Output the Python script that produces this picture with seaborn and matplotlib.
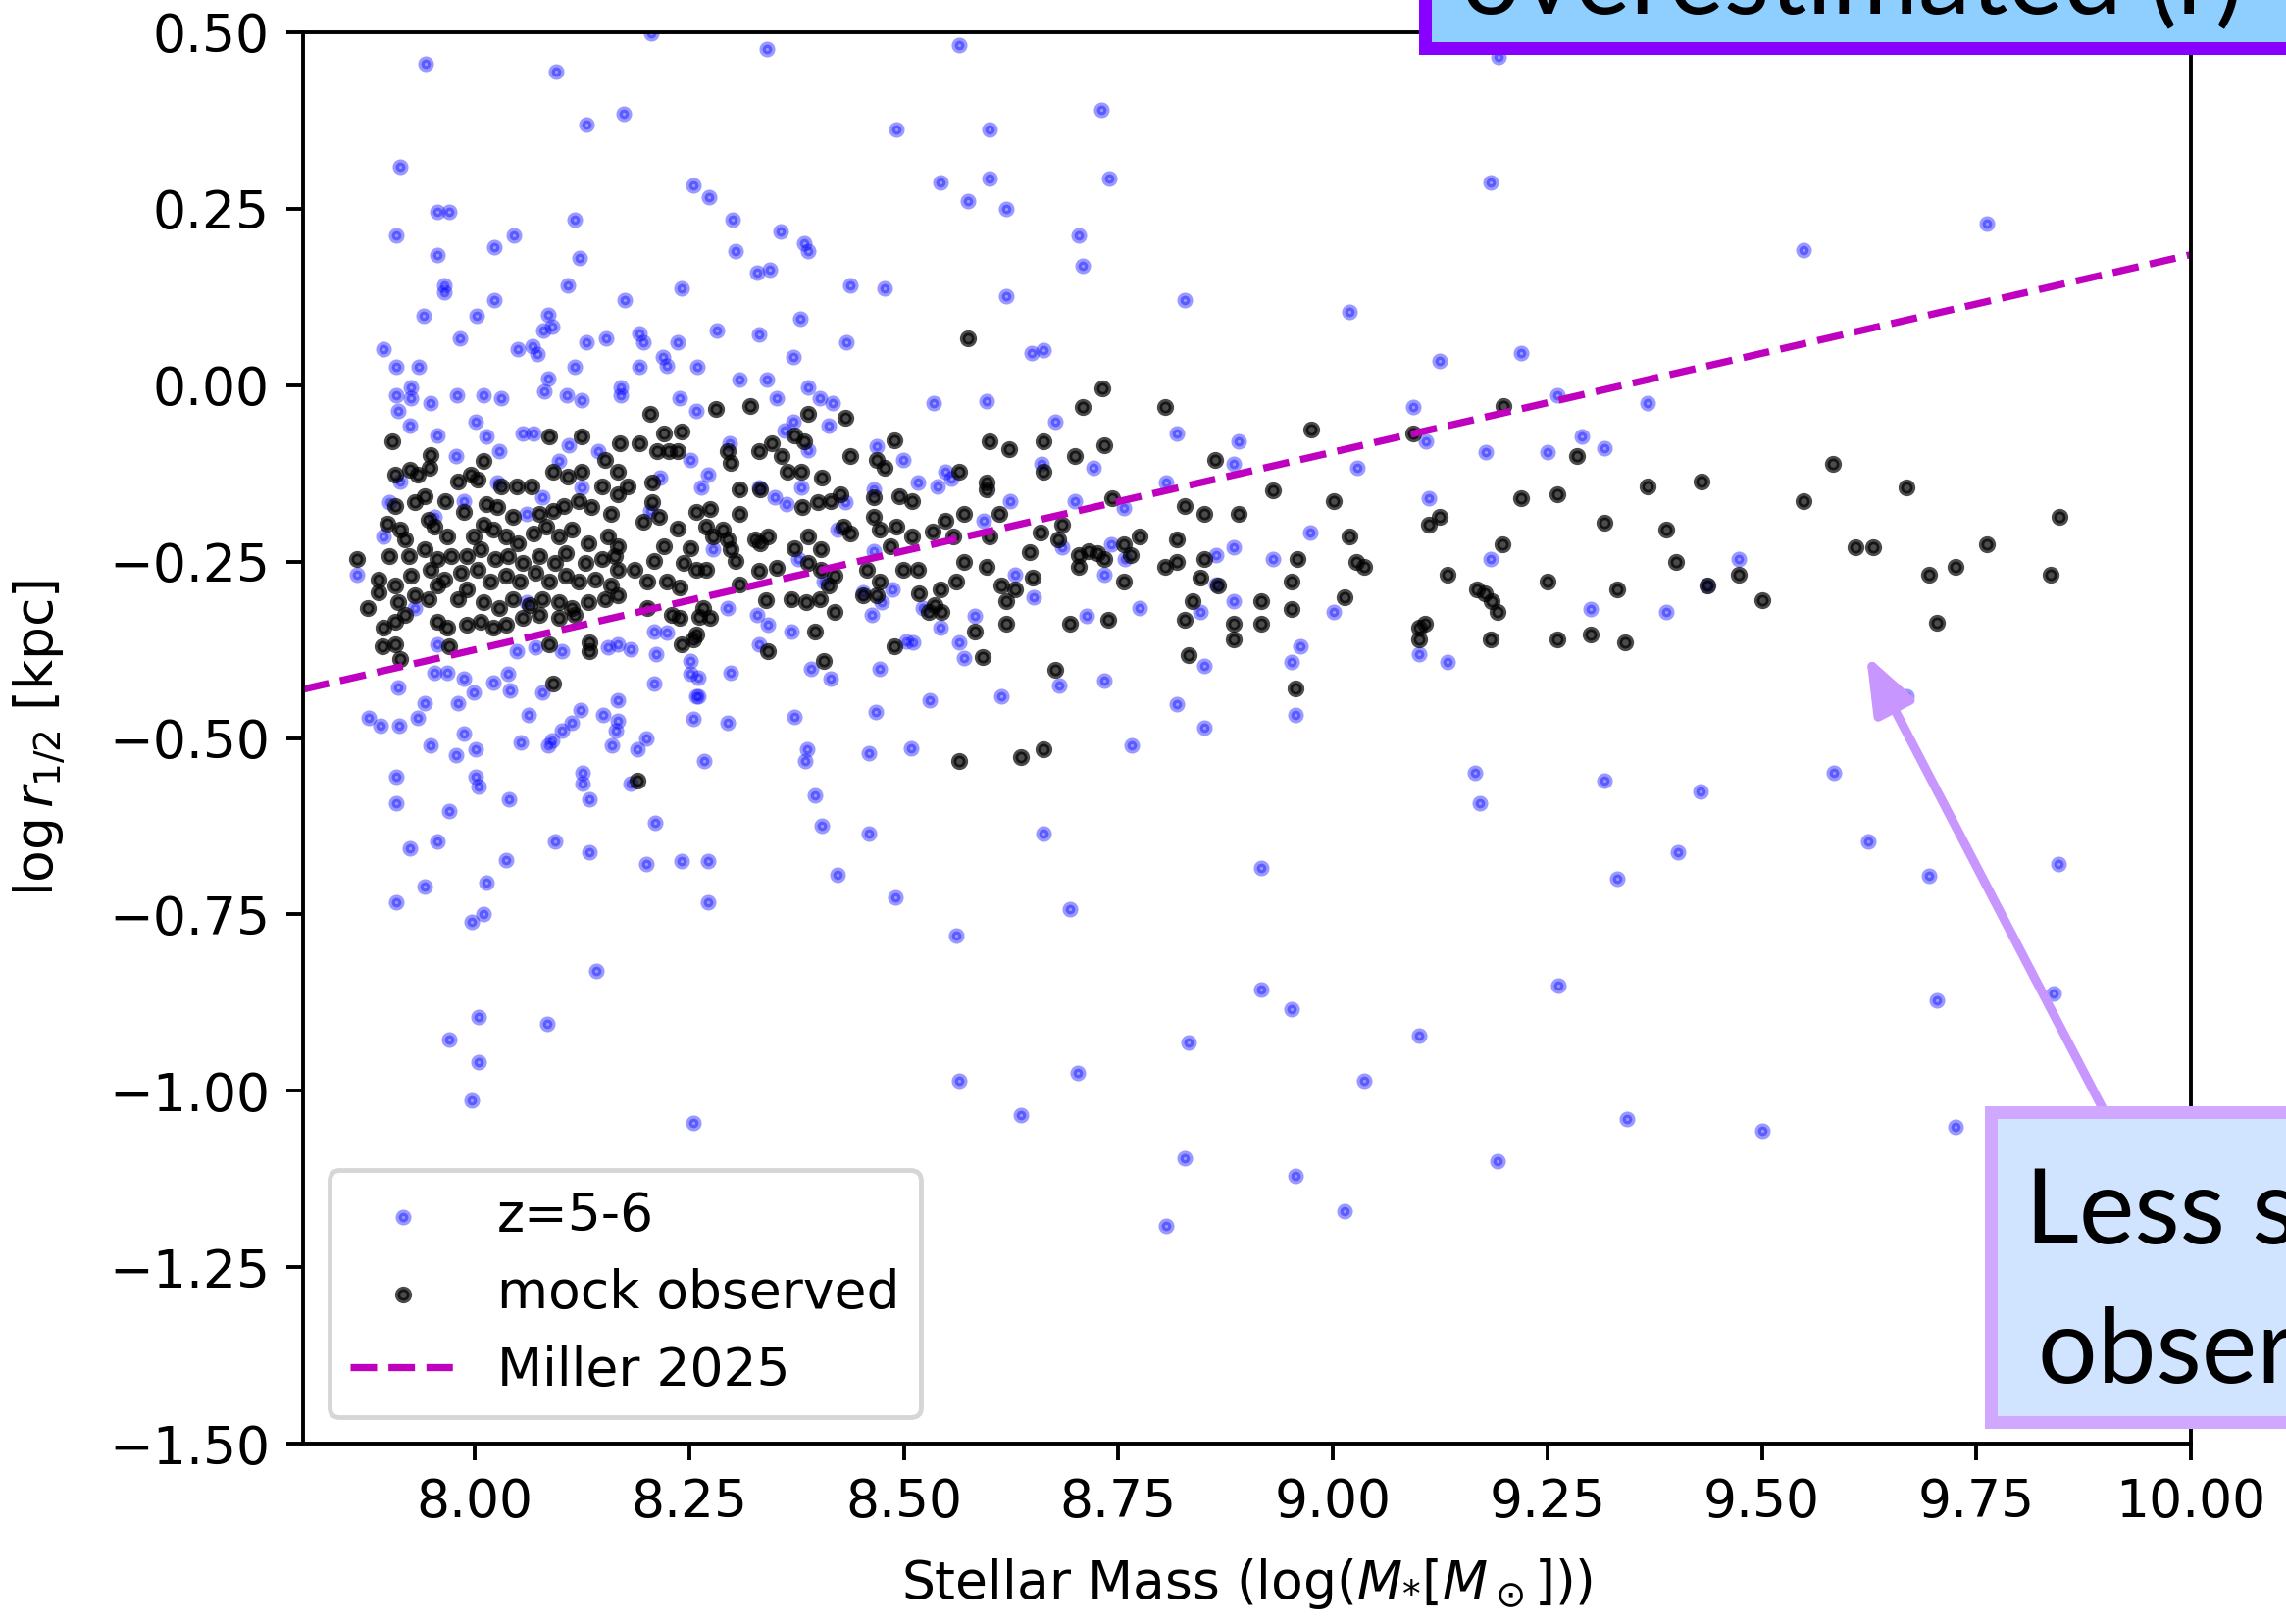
import matplotlib
matplotlib.use("Agg")
import matplotlib.pyplot as plt
import numpy as np
import pandas as pd
import seaborn as sns
from matplotlib.patches import Rectangle, FancyArrowPatch, ArrowStyle

# ---------------------------------------------------------------------------
# Simulated galaxies at z=5-6: (log stellar mass, log half-light radius)
# ---------------------------------------------------------------------------
sim_top = [
    (7.943, 0.455), (8.095, 0.444), (8.340, 0.477), (8.206, 0.498), (8.174, 0.385), (8.130, 0.369),
    (8.491, 0.363), (7.913, 0.310), (8.255, 0.283), (8.273, 0.266), (8.300, 0.234), (8.357, 0.218),
    (8.384, 0.201), (8.388, 0.190), (8.304, 0.190), (8.329, 0.159), (8.344, 0.164), (7.957, 0.245),
    (7.970, 0.245), (7.908, 0.212), (7.957, 0.185), (8.023, 0.196), (8.046, 0.212), (8.117, 0.234),
    (8.122, 0.180), (7.965, 0.142), (7.965, 0.132), (8.023, 0.121), (8.108, 0.142), (8.175, 0.121),
    (8.241, 0.137), (8.438, 0.142), (8.478, 0.137), (7.941, 0.099), (8.002, 0.099), (7.983, 0.067),
    (7.894, 0.051), (7.908, 0.026), (7.935, 0.026), (8.086, 0.100), (8.090, 0.083), (8.080, 0.077),
    (8.050, 0.051), (8.067, 0.055), (8.073, 0.044), (8.130, 0.061), (8.153, 0.067), (8.192, 0.074),
    (8.197, 0.061), (8.237, 0.061), (8.219, 0.040), (8.224, 0.028), (8.282, 0.077), (8.331, 0.072),
    (8.379, 0.094), (8.433, 0.061), (8.371, 0.040), (8.117, 0.026), (8.192, 0.026), (8.259, 0.026),
    (8.309, 0.008), (8.340, 0.008), (8.388, -0.003), (8.402, -0.018), (8.417, -0.026), (7.908, -0.014),
    (7.926, -0.003), (7.926, -0.019), (7.979, -0.014), (8.010, -0.014), (8.031, -0.019), (8.086, 0.009),
    (8.081, -0.009), (8.107, -0.014), (8.125, -0.021), (8.170, -0.003), (8.170, -0.014), (8.239, -0.018),
    (8.352, -0.018), (7.948, -0.026),
]

sim_core_a = [
    (7.911, -0.036), (7.957, -0.071), (7.925, -0.057), (8.001, -0.052), (8.014, -0.073), (8.029, -0.094),
    (7.978, -0.101), (8.056, -0.069), (8.068, -0.069), (8.110, -0.085), (8.144, -0.094), (8.098, -0.108),
    (7.900, -0.166), (7.894, -0.215), (7.863, -0.268), (7.913, -0.136), (7.987, -0.164), (8.026, -0.138),
    (8.125, -0.145), (8.079, -0.159), (8.060, -0.182), (7.953, -0.187), (7.930, -0.316), (8.060, -0.307),
    (7.957, -0.367), (8.049, -0.377), (8.071, -0.372), (8.102, -0.377), (8.155, -0.372), (8.167, -0.367),
    (7.953, -0.407), (7.968, -0.407), (7.987, -0.416), (7.999, -0.435), (8.022, -0.421), (8.039, -0.409),
    (8.041, -0.432), (7.911, -0.428), (8.079, -0.435), (8.167, -0.446), (7.980, -0.451), (7.942, -0.451),
]

sim_core_b = [
    (8.258, -0.036), (8.413, -0.057), (8.371, -0.052), (8.361, -0.064), (8.297, -0.083), (8.251, -0.106),
    (8.272, -0.127), (8.264, -0.145), (8.388, -0.092), (8.468, -0.087), (8.499, -0.106), (8.216, -0.131),
    (8.205, -0.178), (8.331, -0.145), (8.350, -0.159), (8.363, -0.168), (8.381, -0.145), (8.432, -0.166),
    (8.465, -0.147), (8.423, -0.205), (8.278, -0.233), (8.377, -0.247), (8.407, -0.279), (8.465, -0.235),
    (8.487, -0.289), (8.453, -0.293), (8.474, -0.307), (8.463, -0.326), (8.295, -0.316), (8.329, -0.326),
    (8.342, -0.340), (8.369, -0.349), (8.209, -0.349), (8.224, -0.351), (8.182, -0.374), (8.211, -0.381),
    (8.251, -0.391), (8.251, -0.409), (8.260, -0.414), (8.298, -0.407), (8.331, -0.367), (8.392, -0.402),
    (8.415, -0.416), (8.472, -0.402), (8.209, -0.423), (8.258, -0.441), (8.503, -0.363),
]

sim_low_mass_tail = [
    (7.876, -0.472), (7.890, -0.483), (7.912, -0.483), (7.934, -0.472), (7.948, -0.510), (7.978, -0.525),
    (7.987, -0.494), (8.001, -0.516), (8.001, -0.555), (8.005, -0.569), (7.908, -0.555), (7.908, -0.593),
    (7.970, -0.603), (7.925, -0.657), (7.956, -0.647), (7.942, -0.711), (7.908, -0.733), (8.014, -0.705),
    (8.010, -0.749), (7.997, -0.760), (7.970, -0.927), (8.005, -0.895), (8.005, -0.960), (7.997, -1.014),
    (8.085, -0.905), (8.142, -0.830), (8.255, -1.045), (8.272, -0.733), (8.272, -0.674), (8.241, -0.674),
    (8.200, -0.678), (8.134, -0.662), (8.094, -0.647), (8.037, -0.673), (8.040, -0.587), (8.054, -0.506),
    (8.063, -0.468), (8.123, -0.460), (8.113, -0.479), (8.102, -0.489), (8.090, -0.504), (8.086, -0.510),
    (8.126, -0.549), (8.126, -0.565), (8.134, -0.587), (8.150, -0.468), (8.167, -0.475), (8.165, -0.489),
    (8.160, -0.510), (8.190, -0.516), (8.200, -0.500), (8.182, -0.565), (8.210, -0.620), (8.267, -0.532),
    (8.255, -0.473), (8.260, -0.441), (8.295, -0.479), (8.373, -0.470), (8.387, -0.516), (8.385, -0.533),
    (8.396, -0.581), (8.405, -0.625), (8.423, -0.694), (8.459, -0.636), (8.459, -0.522), (8.467, -0.463),
    (8.490, -0.726),
]

sim_mid = [
    (8.565, 0.482), (8.730, 0.390), (8.600, 0.363), (8.543, 0.288), (8.600, 0.293), (8.575, 0.261),
    (8.619, 0.250), (8.739, 0.293), (8.704, 0.212), (8.708, 0.169), (8.619, 0.126), (8.828, 0.120),
    (9.019, 0.104), (9.184, 0.288), (9.193, 0.465), (8.649, 0.045), (8.663, 0.050), (9.125, 0.035),
    (9.219, 0.046), (8.535, -0.025), (8.596, -0.022), (8.677, -0.052), (8.818, -0.068), (8.890, -0.079),
    (9.094, -0.031), (9.108, -0.079), (9.178, -0.095), (9.250, -0.095), (9.262, -0.014), (8.549, -0.123),
    (8.556, -0.132), (8.517, -0.138), (8.539, -0.143), (8.660, -0.111), (8.721, -0.117), (8.885, -0.111),
    (9.028, -0.117), (8.806, -0.138), (8.624, -0.165), (8.699, -0.165), (8.757, -0.174), (9.112, -0.160),
    (8.593, -0.192), (8.974, -0.209), (8.685, -0.230), (8.742, -0.225), (8.758, -0.247), (8.864, -0.241),
    (8.885, -0.230), (8.930, -0.247), (9.184, -0.247), (8.734, -0.268), (8.630, -0.268), (8.651, -0.300),
    (8.864, -0.282), (8.522, -0.316), (8.775, -0.316), (8.885, -0.306), (9.001, -0.322), (8.583, -0.327),
    (8.543, -0.344), (8.713, -0.327), (8.846, -0.322), (8.511, -0.365), (8.565, -0.365), (8.570, -0.387),
    (8.962, -0.370), (8.952, -0.392), (9.100, -0.381), (9.134, -0.392), (8.850, -0.398), (8.681, -0.425),
    (8.734, -0.419), (8.614, -0.441), (8.530, -0.446), (8.818, -0.452), (8.957, -0.468),
]

sim_mid_low = [
    (8.509, -0.515), (8.766, -0.510), (8.850, -0.486), (9.166, -0.549), (9.171, -0.593), (8.663, -0.636),
    (8.916, -0.684), (8.694, -0.743), (8.561, -0.780), (9.263, -0.851), (8.916, -0.857), (8.952, -0.884),
    (9.100, -0.922), (8.832, -0.932), (8.565, -0.986), (8.703, -0.975), (9.037, -0.986), (8.637, -1.035),
    (8.827, -1.095), (8.956, -1.121), (9.192, -1.100), (9.014, -1.170), (8.806, -1.192),
]

sim_high = [
    (9.549, 0.191), (9.762, 0.229), (9.367, -0.025), (9.290, -0.073), (9.317, -0.089), (9.473, -0.246),
    (9.300, -0.317), (9.388, -0.322), (9.437, -0.284), (9.668, -0.441), (9.317, -0.560), (9.428, -0.576),
    (9.584, -0.550), (9.402, -0.662), (9.331, -0.700), (9.624, -0.647), (9.695, -0.695), (9.846, -0.678),
    (9.704, -0.872), (9.840, -0.862), (9.343, -1.040), (9.500, -1.056), (9.726, -1.051),
]

# ---------------------------------------------------------------------------
# Mock-observed sample
# ---------------------------------------------------------------------------
obs_core_a = [
    (7.904, -0.079), (7.949, -0.099), (7.947, -0.117), (7.907, -0.127), (7.925, -0.120), (7.934, -0.127),
    (8.010, -0.108), (7.995, -0.127), (7.980, -0.136), (8.003, -0.134), (8.087, -0.073), (8.125, -0.073),
    (8.169, -0.083), (8.152, -0.106), (8.031, -0.143), (8.049, -0.143), (8.066, -0.143), (8.091, -0.122),
    (8.108, -0.129), (8.125, -0.122), (8.148, -0.143), (8.167, -0.122), (8.167, -0.154), (7.907, -0.171),
    (7.930, -0.166), (7.942, -0.157), (7.966, -0.164), (7.987, -0.180), (8.014, -0.168), (8.026, -0.173),
    (8.045, -0.187), (8.075, -0.182), (8.091, -0.178), (8.104, -0.171), (8.121, -0.164), (8.136, -0.173),
    (8.159, -0.182), (7.898, -0.196), (7.913, -0.205), (7.919, -0.219), (7.946, -0.191), (7.953, -0.201),
    (7.968, -0.215), (7.999, -0.215), (8.010, -0.198), (8.022, -0.205), (8.037, -0.215), (8.050, -0.224),
    (8.068, -0.210), (8.083, -0.201), (8.098, -0.215), (8.113, -0.205), (8.133, -0.224), (8.155, -0.215),
    (8.167, -0.228), (7.863, -0.247), (7.900, -0.242), (7.923, -0.242), (7.942, -0.233), (7.957, -0.247),
    (7.972, -0.242), (7.991, -0.242), (8.007, -0.233), (8.024, -0.247), (8.039, -0.242), (8.056, -0.252),
    (8.075, -0.242), (8.094, -0.252), (8.106, -0.238), (8.129, -0.252), (8.148, -0.247), (8.163, -0.242),
    (7.888, -0.275), (7.907, -0.284), (7.926, -0.270), (7.949, -0.261), (7.965, -0.275), (7.984, -0.266),
    (8.003, -0.261), (8.018, -0.279), (8.037, -0.270), (8.052, -0.279), (8.071, -0.266), (8.087, -0.279),
    (8.106, -0.270), (8.121, -0.279), (8.140, -0.275), (8.159, -0.284), (8.167, -0.261), (7.875, -0.316),
    (7.888, -0.293), (7.911, -0.307), (7.930, -0.298), (7.946, -0.303), (7.957, -0.284), (7.980, -0.303),
    (7.991, -0.289), (8.010, -0.307), (8.029, -0.316), (8.045, -0.303), (8.064, -0.312), (8.079, -0.303),
    (8.098, -0.307), (8.113, -0.316), (8.133, -0.307), (8.152, -0.303), (8.167, -0.298), (7.894, -0.344),
    (7.907, -0.335), (7.919, -0.326), (7.957, -0.335), (7.968, -0.344), (7.991, -0.340), (8.007, -0.335),
    (8.022, -0.344), (8.037, -0.340), (8.056, -0.330), (8.075, -0.326), (8.098, -0.330), (8.117, -0.326),
    (7.892, -0.370), (7.907, -0.367), (7.913, -0.388), (7.970, -0.370), (8.087, -0.367), (8.134, -0.365),
    (8.134, -0.377), (8.091, -0.423),
]

obs_core_b = [
    (8.205, -0.041), (8.281, -0.034), (8.321, -0.029), (8.388, -0.041), (8.432, -0.046), (8.489, -0.078),
    (8.220, -0.069), (8.241, -0.066), (8.192, -0.083), (8.213, -0.094), (8.226, -0.094), (8.237, -0.094),
    (8.295, -0.094), (8.298, -0.110), (8.331, -0.094), (8.346, -0.083), (8.358, -0.101), (8.373, -0.071),
    (8.384, -0.080), (8.365, -0.122), (8.381, -0.122), (8.405, -0.131), (8.438, -0.101), (8.468, -0.106),
    (8.478, -0.117), (8.178, -0.143), (8.207, -0.138), (8.207, -0.166), (8.308, -0.147), (8.333, -0.147),
    (8.308, -0.182), (8.258, -0.180), (8.274, -0.175), (8.215, -0.187), (8.197, -0.194), (8.237, -0.203),
    (8.251, -0.231), (8.270, -0.201), (8.278, -0.215), (8.289, -0.205), (8.295, -0.219), (8.298, -0.233),
    (8.304, -0.249), (8.333, -0.224), (8.342, -0.215), (8.327, -0.219), (8.373, -0.231), (8.388, -0.215),
    (8.403, -0.233), (8.382, -0.173), (8.400, -0.166), (8.415, -0.164), (8.426, -0.154), (8.495, -0.157),
    (8.465, -0.159), (8.465, -0.187), (8.472, -0.205), (8.438, -0.210), (8.430, -0.201), (8.491, -0.201),
    (8.484, -0.228), (8.499, -0.261), (8.186, -0.261), (8.209, -0.249), (8.220, -0.228), (8.243, -0.252),
    (8.258, -0.261), (8.201, -0.279), (8.224, -0.279), (8.239, -0.286), (8.270, -0.261), (8.331, -0.263),
    (8.352, -0.259), (8.388, -0.252), (8.403, -0.261), (8.419, -0.270), (8.308, -0.282), (8.339, -0.305),
    (8.369, -0.303), (8.386, -0.307), (8.402, -0.303), (8.413, -0.284), (8.419, -0.321), (8.457, -0.261),
    (8.472, -0.279), (8.468, -0.298), (8.453, -0.298), (8.201, -0.316), (8.230, -0.326), (8.239, -0.330),
    (8.266, -0.316), (8.274, -0.330), (8.262, -0.328), (8.241, -0.367), (8.255, -0.360), (8.258, -0.354),
    (8.342, -0.377), (8.396, -0.349), (8.407, -0.391), (8.489, -0.370),
]

obs_mid = [
    (8.575, 0.066), (8.731, -0.004), (8.708, -0.031), (8.805, -0.031), (8.975, -0.063), (8.600, -0.079),
    (8.623, -0.090), (8.663, -0.079), (8.734, -0.085), (8.699, -0.101), (8.863, -0.106), (8.663, -0.123),
    (8.565, -0.123), (8.597, -0.138), (8.597, -0.148), (8.510, -0.165), (8.743, -0.160), (8.930, -0.149),
    (9.001, -0.165), (9.219, -0.160), (9.262, -0.155), (9.284, -0.100), (8.828, -0.171), (8.850, -0.182),
    (8.890, -0.182), (8.570, -0.182), (8.611, -0.182), (8.548, -0.192), (8.534, -0.208), (8.510, -0.214),
    (8.558, -0.214), (8.600, -0.214), (8.659, -0.209), (8.685, -0.198), (8.680, -0.219), (8.775, -0.214),
    (8.818, -0.219), (9.019, -0.214), (9.112, -0.198), (9.125, -0.187), (9.198, -0.225), (8.647, -0.236),
    (8.704, -0.241), (8.716, -0.235), (8.726, -0.238), (8.734, -0.247), (8.757, -0.225), (8.765, -0.241),
    (8.704, -0.257), (8.570, -0.251), (8.596, -0.257), (8.804, -0.257), (8.818, -0.251), (8.850, -0.247),
    (8.959, -0.247), (9.027, -0.251), (9.036, -0.257), (8.516, -0.262), (9.134, -0.268), (9.168, -0.289),
    (9.177, -0.295), (9.185, -0.306), (9.192, -0.321), (9.250, -0.279), (8.561, -0.279), (8.614, -0.284),
    (8.650, -0.273), (8.757, -0.279), (8.846, -0.273), (8.866, -0.284), (8.952, -0.279), (8.518, -0.295),
    (8.543, -0.290), (8.630, -0.289), (8.619, -0.306), (8.536, -0.311), (8.529, -0.322), (8.544, -0.322),
    (8.836, -0.306), (8.916, -0.306), (8.952, -0.317), (9.014, -0.300), (8.583, -0.349), (8.619, -0.338),
    (8.694, -0.338), (8.738, -0.333), (8.828, -0.333), (8.885, -0.338), (8.885, -0.360), (8.916, -0.338),
    (9.100, -0.344), (9.107, -0.338), (9.100, -0.360), (9.184, -0.360), (9.262, -0.360), (8.592, -0.386),
    (8.677, -0.403), (8.832, -0.382), (8.956, -0.430), (9.094, -0.068), (9.199, -0.030),
]

obs_compact = [(8.190, -0.560), (8.565, -0.533), (8.637, -0.527), (8.663, -0.516)]

obs_high = [
    (9.367, -0.144), (9.430, -0.137), (9.549, -0.165), (9.583, -0.112), (9.668, -0.145), (9.847, -0.187),
    (9.317, -0.195), (9.388, -0.204), (9.609, -0.230), (9.630, -0.230), (9.762, -0.225), (9.400, -0.251),
    (9.726, -0.257), (9.695, -0.268), (9.837, -0.268), (9.331, -0.289), (9.437, -0.284), (9.473, -0.268),
    (9.500, -0.305), (9.300, -0.354), (9.340, -0.365), (9.704, -0.337),
]

# Miller 2025 size-mass relation, end points across the plotted mass range
miller_mass = [7.8, 10.0]
miller_size = [-0.431, 0.185]

x_ticks = [8.00, 8.25, 8.50, 8.75, 9.00, 9.25, 9.50, 9.75, 10.00]
y_ticks = [-1.50, -1.25, -1.00, -0.75, -0.50, -0.25, 0.00, 0.25, 0.50]

# ---------------------------------------------------------------------------
sim = pd.DataFrame(sim_top + sim_core_a + sim_core_b + sim_low_mass_tail + sim_mid
                   + sim_mid_low + sim_high, columns=["mass", "size"])
obs = pd.DataFrame(obs_core_a + obs_core_b + obs_mid + obs_compact + obs_high,
                   columns=["mass", "size"])

plt.rcParams["font.size"] = 11

W, H, DPI = 2331, 1656, 350
fig = plt.figure(figsize=(W / DPI, H / DPI), dpi=DPI, facecolor="white")
ax = fig.add_axes([309 / W, 1 - 1472 / H, (2234 - 309) / W, (1472 - 33) / H])


def fx(px):
    return px / W


def fy(py):
    return 1 - py / H


sns.scatterplot(data=sim, x="mass", y="size", ax=ax, color="blue", edgecolor="blue",
                alpha=0.4, s=4, linewidth=1.3, label="z=5-6")
sns.scatterplot(data=obs, x="mass", y="size", ax=ax, color="black", edgecolor="black",
                alpha=0.7, s=6, linewidth=1.1, label="mock observed")
sns.lineplot(x=miller_mass, y=miller_size, ax=ax, color="m", linestyle="--",
             linewidth=1.5, label="Miller 2025")

ax.set_xlim(7.8, 10.0)
ax.set_ylim(-1.5, 0.5)
ax.set_xticks(x_ticks)
ax.set_yticks(y_ticks)
ax.set_xticklabels([f"{t:.2f}" for t in x_ticks])
ax.set_yticklabels([f"{t:.2f}".replace("-", "\u2212") for t in y_ticks])
ax.set_xlabel(r"Stellar Mass (log($M_{*}[M_\odot]$))", labelpad=6)
ax.set_ylabel(r"$\log r_{1/2}$ [kpc]", labelpad=8.5)
ax.grid(False)
for sp in ax.spines.values():
    sp.set_visible(True)
    sp.set_color("black")
ax.legend(loc="lower left")

# Callout boxes and arrow
box_lw = 13 * 72 / DPI
fig.add_artist(Rectangle((fx(1452.5), fy(48.5)), 0.6, 0.2, transform=fig.transFigure,
                         facecolor="#8ECFFF", edgecolor="#8800FF", linewidth=box_lw,
                         zorder=10))
fig.text(fx(1490), fy(14), "overestimated (r)", fontsize=22, family="Lato",
         color="black", ha="left", va="baseline", zorder=11)

fig.add_artist(FancyArrowPatch(posA=(fx(2145), fy(1132)), posB=(fx(1903), fy(668)),
                               transform=fig.transFigure,
                               arrowstyle=ArrowStyle("-|>", head_length=10, head_width=3.8),
                               mutation_scale=1, color="#C796FF", linewidth=1.9,
                               shrinkA=0, shrinkB=0, zorder=9))
fig.add_artist(Rectangle((fx(2029.5), fy(1449.5)), 0.3, (1449.5 - 1133.5) / H,
                         transform=fig.transFigure, facecolor="#D0E4FF",
                         edgecolor="#D0A8FF", linewidth=box_lw, zorder=10))
fig.text(fx(2065), fy(1268), "Less scatter in", fontsize=22, family="Lato",
         color="black", ha="left", va="baseline", zorder=11)
fig.text(fx(2078), fy(1410), "observed sizes", fontsize=22, family="Lato",
         color="black", ha="left", va="baseline", zorder=11)

fig.savefig("out.png", dpi=DPI, facecolor="white")
